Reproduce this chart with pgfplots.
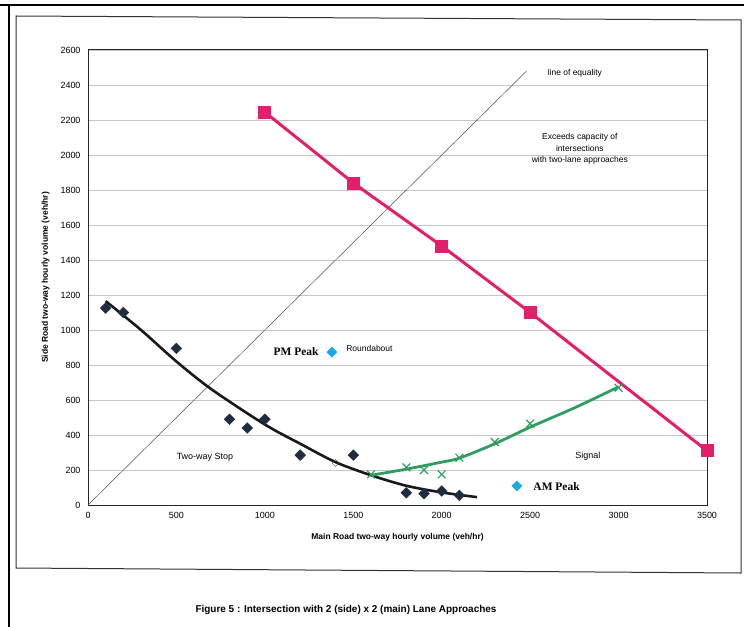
\documentclass[border=0pt]{standalone}
\usepackage{pgfplots}
\pgfplotsset{compat=1.18}
\usepackage{fontspec}
\setmainfont{Liberation Sans}
\newfontfamily\pkfont{Liberation Serif}
\definecolor{navy}{HTML}{1C2E40}
\definecolor{pinkc}{HTML}{E0206A}
\definecolor{greenc}{HTML}{2E9E5E}
\definecolor{cyanc}{HTML}{1AA8EC}
\begin{document}
\begin{tikzpicture}[x=1bp,y=1bp]
\path[use as bounding box] (0,0) rectangle (744,-627);
\draw[line width=1.2bp] (0,-5) -- (744,-5);
\draw[line width=1.2bp] (9,-5) -- (9,-627);
\draw[line width=1bp, black!80] (16,-16) -- (741,-20) -- (741,-573) -- (16,-568) -- cycle;
\node[font=\fontsize{10}{11}\selectfont\bfseries] at (346,-610) {Figure 5 : Intersection with 2 (side) x 2 (main) Lane Approaches};
\begin{axis}[at={(88bp,-505bp)}, anchor=south west, scale only axis,
  width=619bp, height=455bp,
  xmin=0, xmax=3500, ymin=0, ymax=2600,
  xtick={0,500,...,3500}, ytick={0,200,...,2600},
  ymajorgrids, grid style={gray!45, line width=0.6bp},
  axis line style={line width=1bp, black!85},
  tick style={draw=none},
  ticklabel style={font=\fontsize{9}{10}\selectfont},
  xticklabel style={yshift=-4bp},
  yticklabel style={xshift=-4bp},
  /pgf/number format/assume math mode=true,
  /pgf/number format/set thousands separator={},
  xlabel={Main Road two-way hourly volume (veh/hr)},
  ylabel={Side Road two-way hourly volume (veh/hr)},
  label style={font=\fontsize{8.5}{10}\selectfont\bfseries},
  xlabel style={yshift=-8bp},
  ylabel style={yshift=4bp},
  clip=false]
% line of equality
\addplot[black!70, line width=0.5bp] coordinates {(0,0) (2480,2480)};
% two-way stop curve
\addplot[black!90, line width=2.6bp, smooth] coordinates {(100,1165) (300,1000) (500,820) (700,660) (1000,460) (1200,350) (1400,245) (1600,170) (1800,110) (2000,72) (2200,45)};
\addplot[only marks, mark=square*, mark options={rotate=45}, mark size=3.8bp, navy] coordinates {(100,1125) (200,1100) (500,895) (800,490) (900,440) (1000,490) (1200,285) (1500,285) (1800,70) (1900,65) (2000,80) (2100,55)};
\addplot[only marks, mark=square, mark options={rotate=45, fill=white}, mark size=2.5bp, black!70] coordinates {(1400,240)};
% signal curve
\addplot[greenc, line width=2.8bp, smooth] coordinates {(1600,170) (1800,205) (2000,245) (2100,268) (2300,350) (2500,445) (2750,555) (3000,675)};
\addplot[only marks, mark=x, mark size=5.5bp, greenc, line width=1.2bp] coordinates {(1600,175) (1800,215) (1900,200) (2000,175) (2100,270) (2300,360) (2500,465) (3000,670)};
% capacity line
\addplot[pinkc, line width=3bp, mark=square*, mark size=5bp] coordinates {(1000,2245) (1500,1840) (2000,1480) (2500,1100) (3500,310)};
% peaks
\addplot[only marks, mark=square*, mark options={rotate=45}, mark size=3.6bp, cyanc] coordinates {(1379,874) (2425,109)};
\node[font=\fontsize{8.5}{9}\selectfont] at (axis cs:2753,2468) {line of equality};
\node[font=\fontsize{8.5}{11.5}\selectfont, align=center] at (axis cs:2781,2033) {Exceeds capacity of\\intersections\\with two-lane approaches};
\node[font=\fontsize{9}{10}\selectfont] at (axis cs:661,275) {Two-way Stop};
\node[font=\fontsize{9}{10}\selectfont] at (axis cs:2826,280) {Signal};
\node[font=\fontsize{8.5}{9}\selectfont, anchor=west] at (axis cs:1441,897) {Roundabout};
\node[font=\pkfont\fontsize{11.5}{12}\selectfont\bfseries, anchor=east] at (axis cs:1323,874) {PM Peak};
\node[font=\pkfont\fontsize{11.5}{12}\selectfont\bfseries, anchor=west] at (axis cs:2499,103) {AM Peak};
\end{axis}
\end{tikzpicture}
\end{document}
